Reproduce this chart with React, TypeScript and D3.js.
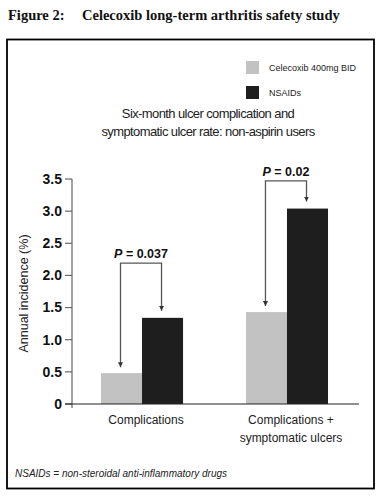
import React from "react";
import * as d3 from "d3";

const categories = ["Complications", "Complications +\nsymptomatic ulcers"];
const seriesNames = ["Celecoxib 400mg BID", "NSAIDs"];
const celecoxibValues = [0.48, 1.43];
const nsaidValues = [1.34, 3.04];
const pLabels = ["0.037", "0.02"];
const bracketLevels = [2.19, 3.47];
const yTicks = [0, 0.5, 1.0, 1.5, 2.0, 2.5, 3.0, 3.5];

const colors = ["#c2c2c2", "#1e1e1e"];
const sans = "'Liberation Sans', Arial, sans-serif";

export default function App() {
  const width = 386;
  const height = 503;

  const y = d3.scaleLinear().domain([0, 3.5]).range([404, 179]);
  const x = d3
    .scaleBand()
    .domain(categories)
    .range([72, 357])
    .paddingInner(0.434)
    .paddingOuter(0.2);
  const xs = d3.scaleBand().domain(seriesNames).range([0, x.bandwidth()]);

  const values = [celecoxibValues, nsaidValues];

  return (
    <div style={{ position: "absolute", left: 0, top: 0 }}>
      <svg width={width} height={height} style={{ display: "block", background: "#fff" }}>
        <defs>
          <marker
            id="arr"
            viewBox="0 0 10 10"
            refX="10"
            refY="5"
            markerWidth="5"
            markerHeight="6"
            orient="auto"
            markerUnits="userSpaceOnUse"
          >
            <path d="M0,0 L10,5 L0,10 Z" fill="#333" />
          </marker>
        </defs>

        {/* figure title */}
        <text x={8} y={20} fontFamily="'Liberation Serif', 'Times New Roman', serif" fontWeight="bold" fontSize={14.5} fill="#111">
          <tspan>Figure 2:</tspan>
          <tspan x={82}>Celecoxib long-term arthritis safety study</tspan>
        </text>

        {/* frame */}
        <rect x={7} y={39.5} width={367} height={449} fill="none" stroke="#000" strokeWidth={1.8} />

        {/* legend */}
        {seriesNames.map((s, i) => (
          <g key={s} transform={`translate(246,${61 + i * 25})`}>
            <rect width={13} height={13} fill={colors[i]} />
            <text x={23} y={10} fontFamily={sans} fontSize={9} fill="#222">
              {s}
            </text>
          </g>
        ))}

        {/* chart title */}
        <text textAnchor="middle" fontFamily={sans} fontSize={13} letterSpacing={-0.6} fill="#222">
          <tspan x={208} y={118}>Six-month ulcer complication and</tspan>
          <tspan x={208} y={136}>symptomatic ulcer rate: non-aspirin users</tspan>
        </text>

        {/* y axis */}
        <line x1={72} x2={72} y1={y(3.5)} y2={y(0) + 4} stroke="#666" strokeWidth={1.2} />
        {yTicks.map((t) => (
          <g key={t} transform={`translate(0,${y(t)})`}>
            <line x1={65} x2={72} stroke="#666" strokeWidth={1.2} />
            <text x={62} dy="0.35em" textAnchor="end" fontFamily={sans} fontWeight="bold" fontSize={14} fill="#111">
              {t === 0 ? "0" : t.toFixed(1)}
            </text>
          </g>
        ))}
        <text
          transform={`translate(28,${(y(0) + y(3.5)) / 2 + 2}) rotate(-90)`}
          textAnchor="middle"
          fontFamily={sans}
          fontSize={12.5}
          fill="#222"
        >
          Annual incidence (%)
        </text>

        {/* bars */}
        {categories.map((c, ci) =>
          seriesNames.map((s, si) => (
            <rect
              key={c + s}
              x={(x(c) ?? 0) + (xs(s) ?? 0)}
              y={y(values[si][ci])}
              width={xs.bandwidth()}
              height={y(0) - y(values[si][ci])}
              fill={colors[si]}
            />
          ))
        )}

        {/* x axis */}
        <line x1={65} x2={359} y1={y(0)} y2={y(0)} stroke="#222" strokeWidth={1.2} />
        {categories.map((c) => (
          <text key={c} textAnchor="middle" fontFamily={sans} fontSize={12} fill="#222">
            {c.split("\n").map((ln, i) => (
              <tspan key={i} x={(x(c) ?? 0) + x.bandwidth() / 2 + 4} y={424 + i * 18}>
                {ln}
              </tspan>
            ))}
          </text>
        ))}

        {/* p-value brackets */}
        {categories.map((c, ci) => {
          const x1 = (x(c) ?? 0) + (xs(seriesNames[0]) ?? 0) + xs.bandwidth() / 2 - 1;
          const x2 = (x(c) ?? 0) + (xs(seriesNames[1]) ?? 0) + xs.bandwidth() / 2 - 1;
          const yb = y(bracketLevels[ci]);
          const yl = y(celecoxibValues[ci]) - 6;
          const yr = y(nsaidValues[ci]) - 7;
          return (
            <g key={c}>
              <path d={`M${x1},${yl} V${yb} H${x2} V${yr}`} fill="none" stroke="#555" strokeWidth={1.3} />
              <path d={`M${x1},${yb + 10} V${yl}`} fill="none" stroke="none" markerEnd="url(#arr)" />
              <path d={`M${x2},${yb + 1} V${yr}`} fill="none" stroke="none" markerEnd="url(#arr)" />
              <text
                x={(x1 + x2) / 2}
                y={yb - 5}
                textAnchor="middle"
                fontFamily={sans}
                fontWeight="bold"
                fontSize={12.5}
                fill="#111"
              >
                <tspan fontStyle="italic">P</tspan> = {pLabels[ci]}
              </text>
            </g>
          );
        })}

        {/* footnote */}
        <text x={15} y={477} fontFamily={sans} fontStyle="italic" fontSize={10} fill="#222">
          NSAIDs = non-steroidal anti-inflammatory drugs
        </text>
      </svg>
    </div>
  );
}
